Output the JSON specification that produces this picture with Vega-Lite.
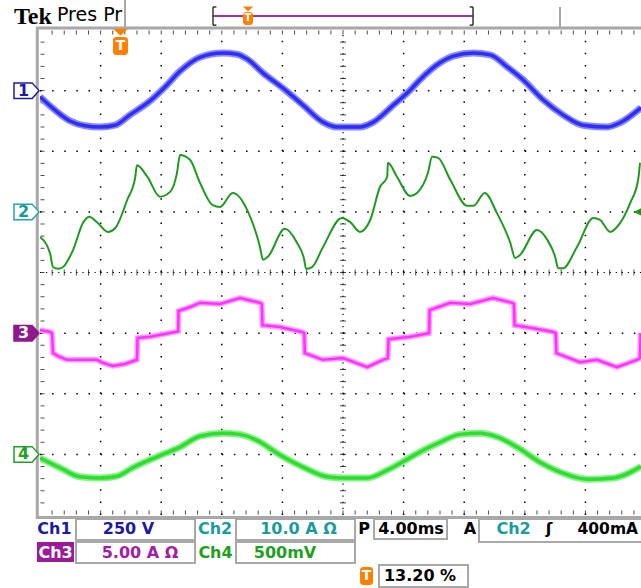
{
"$schema": "https://vega.github.io/schema/vega-lite/v6.json",
"width": 601, "height": 485,
"autosize": {"type": "none"},
"padding": {"left": 40, "top": 30, "right": 0, "bottom": 73},
"background": "white",
"config": {"view": {"stroke": null}, "axis": {"disable": true}, "font": "DejaVu Sans"},
"datasets": {
"vgrid": [{"t":1},{"t":2},{"t":3},{"t":4},{"t":6},{"t":7},{"t":8},{"t":9}],
"hgrid": [{"v":-3},{"v":-2},{"v":-1},{"v":1},{"v":2},{"v":3}],
"mx": [{"t":0.2},{"t":0.4},{"t":0.6},{"t":0.8},{"t":1},{"t":1.2},{"t":1.4},{"t":1.6},{"t":1.8},{"t":2},{"t":2.2},{"t":2.4},{"t":2.6},{"t":2.8},{"t":3},{"t":3.2},{"t":3.4},{"t":3.6},{"t":3.8},{"t":4},{"t":4.2},{"t":4.4},{"t":4.6},{"t":4.8},{"t":5},{"t":5.2},{"t":5.4},{"t":5.6},{"t":5.8},{"t":6},{"t":6.2},{"t":6.4},{"t":6.6},{"t":6.8},{"t":7},{"t":7.2},{"t":7.4},{"t":7.6},{"t":7.8},{"t":8},{"t":8.2},{"t":8.4},{"t":8.6},{"t":8.8},{"t":9},{"t":9.2},{"t":9.4},{"t":9.6},{"t":9.8}],
"my": [{"v":-3.8},{"v":-3.6},{"v":-3.4},{"v":-3.2},{"v":-3},{"v":-2.8},{"v":-2.6},{"v":-2.4},{"v":-2.2},{"v":-2},{"v":-1.8},{"v":-1.6},{"v":-1.4},{"v":-1.2},{"v":-1},{"v":-0.8},{"v":-0.6},{"v":-0.4},{"v":-0.2},{"v":0},{"v":0.2},{"v":0.4},{"v":0.6},{"v":0.8},{"v":1},{"v":1.2},{"v":1.4},{"v":1.6},{"v":1.8},{"v":2},{"v":2.2},{"v":2.4},{"v":2.6},{"v":2.8},{"v":3},{"v":3.2},{"v":3.4},{"v":3.6},{"v":3.8}],
"ch1": [{"t":0,"v":2.9},{"t":0.165,"v":2.75},{"t":0.495,"v":2.5},{"t":0.743,"v":2.42},{"t":0.99,"v":2.4},{"t":1.238,"v":2.43},{"t":1.485,"v":2.6},{"t":1.815,"v":2.83},{"t":2.063,"v":3.06},{"t":2.31,"v":3.32},{"t":2.64,"v":3.55},{"t":3.02,"v":3.62},{"t":3.25,"v":3.6},{"t":3.42,"v":3.52},{"t":3.68,"v":3.29},{"t":4.01,"v":3.04},{"t":4.34,"v":2.76},{"t":4.67,"v":2.48},{"t":4.9,"v":2.4},{"t":5.28,"v":2.4},{"t":5.5,"v":2.48},{"t":5.83,"v":2.76},{"t":6.11,"v":3.01},{"t":6.27,"v":3.18},{"t":6.6,"v":3.46},{"t":6.82,"v":3.57},{"t":7.15,"v":3.62},{"t":7.43,"v":3.59},{"t":7.71,"v":3.39},{"t":7.97,"v":3.18},{"t":8.3,"v":2.85},{"t":8.63,"v":2.6},{"t":8.96,"v":2.43},{"t":9.36,"v":2.4},{"t":9.57,"v":2.47},{"t":9.917,"v":2.72}],
"ch2": [{"t":0,"v":0.586},{"t":0.165,"v":0.32},{"t":0.215,"v":0.09},{"t":0.297,"v":0.06},{"t":0.38,"v":0.09},{"t":0.545,"v":0.37},{"t":0.71,"v":0.82},{"t":0.81,"v":0.92},{"t":0.94,"v":0.83},{"t":1.12,"v":0.67},{"t":1.24,"v":0.73},{"t":1.44,"v":1.2},{"t":1.57,"v":1.56},{"t":1.6,"v":1.77},{"t":1.77,"v":1.58},{"t":1.98,"v":1.25},{"t":2.145,"v":1.33},{"t":2.26,"v":1.64},{"t":2.31,"v":1.94},{"t":2.475,"v":1.86},{"t":2.64,"v":1.48},{"t":2.85,"v":1.11},{"t":2.97,"v":1.08},{"t":3.18,"v":1.31},{"t":3.42,"v":1.03},{"t":3.63,"v":0.42},{"t":3.68,"v":0.21},{"t":3.76,"v":0.26},{"t":4.04,"v":0.72},{"t":4.24,"v":0.49},{"t":4.36,"v":0.21},{"t":4.39,"v":0.06},{"t":4.49,"v":0.09},{"t":4.67,"v":0.42},{"t":4.98,"v":0.9},{"t":5.12,"v":0.83},{"t":5.28,"v":0.67},{"t":5.45,"v":0.87},{"t":5.61,"v":1.41},{"t":5.73,"v":1.58},{"t":5.74,"v":1.81},{"t":5.89,"v":1.58},{"t":6.11,"v":1.26},{"t":6.22,"v":1.31},{"t":6.4,"v":1.64},{"t":6.47,"v":1.91},{"t":6.57,"v":1.89},{"t":6.77,"v":1.53},{"t":7.05,"v":1.1},{"t":7.15,"v":1.1},{"t":7.34,"v":1.31},{"t":7.54,"v":0.98},{"t":7.76,"v":0.49},{"t":7.84,"v":0.24},{"t":7.92,"v":0.29},{"t":8.2,"v":0.7},{"t":8.37,"v":0.54},{"t":8.5,"v":0.26},{"t":8.55,"v":0.07},{"t":8.63,"v":0.07},{"t":8.86,"v":0.42},{"t":9.13,"v":0.9},{"t":9.24,"v":0.87},{"t":9.41,"v":0.67},{"t":9.52,"v":0.75},{"t":9.74,"v":1.15},{"t":9.87,"v":1.53},{"t":9.9,"v":1.81}],
"ch3": [{"t":0,"v":-0.95},{"t":0.165,"v":-0.98},{"t":0.198,"v":-1.0},{"t":0.215,"v":-1.33},{"t":0.297,"v":-1.38},{"t":0.445,"v":-1.44},{"t":0.776,"v":-1.44},{"t":0.94,"v":-1.44},{"t":1.04,"v":-1.49},{"t":1.2,"v":-1.54},{"t":1.4,"v":-1.51},{"t":1.6,"v":-1.44},{"t":1.61,"v":-1.08},{"t":1.815,"v":-1.06},{"t":2.23,"v":-0.98},{"t":2.28,"v":-0.97},{"t":2.285,"v":-0.635},{"t":2.475,"v":-0.57},{"t":2.64,"v":-0.5},{"t":2.97,"v":-0.52},{"t":3.3,"v":-0.42},{"t":3.63,"v":-0.5},{"t":3.66,"v":-0.52},{"t":3.67,"v":-0.87},{"t":3.96,"v":-0.9},{"t":4.32,"v":-0.98},{"t":4.36,"v":-1.0},{"t":4.37,"v":-1.33},{"t":4.67,"v":-1.44},{"t":5.0,"v":-1.41},{"t":5.4,"v":-1.56},{"t":5.66,"v":-1.44},{"t":5.74,"v":-1.41},{"t":5.75,"v":-1.1},{"t":6.11,"v":-1.06},{"t":6.42,"v":-1.0},{"t":6.43,"v":-0.62},{"t":6.77,"v":-0.5},{"t":7.1,"v":-0.52},{"t":7.475,"v":-0.42},{"t":7.79,"v":-0.5},{"t":7.82,"v":-0.52},{"t":7.83,"v":-0.87},{"t":8.14,"v":-0.92},{"t":8.47,"v":-0.98},{"t":8.51,"v":-1.0},{"t":8.52,"v":-1.33},{"t":8.91,"v":-1.48},{"t":9.19,"v":-1.44},{"t":9.52,"v":-1.56},{"t":9.85,"v":-1.44},{"t":9.9,"v":-1.41},{"t":9.91,"v":-1.0}],
"ch4": [{"t":0,"v":-3.06},{"t":0.33,"v":-3.22},{"t":0.66,"v":-3.37},{"t":0.99,"v":-3.39},{"t":1.27,"v":-3.36},{"t":1.53,"v":-3.22},{"t":1.93,"v":-3.04},{"t":2.31,"v":-2.88},{"t":2.64,"v":-2.7},{"t":3.02,"v":-2.65},{"t":3.3,"v":-2.67},{"t":3.58,"v":-2.77},{"t":3.96,"v":-3.01},{"t":4.34,"v":-3.21},{"t":4.74,"v":-3.37},{"t":5.0,"v":-3.39},{"t":5.4,"v":-3.39},{"t":5.73,"v":-3.26},{"t":6.11,"v":-3.05},{"t":6.27,"v":-2.96},{"t":6.6,"v":-2.8},{"t":6.93,"v":-2.67},{"t":7.26,"v":-2.65},{"t":7.54,"v":-2.71},{"t":7.87,"v":-2.88},{"t":8.25,"v":-3.13},{"t":8.63,"v":-3.31},{"t":9.03,"v":-3.41},{"t":9.46,"v":-3.39},{"t":9.917,"v":-3.2}],
"frame": [{"t":-0.045,"t2":10.3,"v":-4.04,"v2":4.035}],
"grayrules": [{"t":1.403,"t2":1.403,"v":4.04,"v2":4.5},{"t":8.58,"t2":8.58,"v":4.04,"v2":4.38}],
"bracket": [{"t":2.855,"t2":2.855,"v":4.08,"v2":4.38},{"t":2.855,"t2":2.91,"v":4.38,"v2":4.38},{"t":2.855,"t2":2.91,"v":4.08,"v2":4.08},{"t":7.145,"t2":7.145,"v":4.08,"v2":4.38},{"t":7.09,"t2":7.145,"v":4.38,"v2":4.38},{"t":7.09,"t2":7.145,"v":4.08,"v2":4.08}],
"recbar": [{"t":2.855,"t2":7.145,"v":4.231,"v2":4.231}],
"boxes": [{"t":0.594,"t2":2.558,"v":-4.066,"v2":-4.412},{"t":3.234,"t2":5.198,"v":-4.066,"v2":-4.412},{"t":5.512,"t2":6.716,"v":-4.066,"v2":-4.396},{"t":7.244,"t2":10.1,"v":-4.066,"v2":-4.445},{"t":0.594,"t2":2.558,"v":-4.445,"v2":-4.791},{"t":3.234,"t2":5.198,"v":-4.445,"v2":-4.791},{"t":5.594,"t2":7.063,"v":-4.824,"v2":-5.188}],
"purplebox": [{"t":-0.05,"t2":0.561,"v":-4.445,"v2":-4.775}],
"orect": [{"t":1.205,"t2":1.452,"v":3.885,"v2":3.588},{"t":3.35,"t2":3.515,"v":4.297,"v2":4.083},{"t":5.281,"t2":5.495,"v":-4.857,"v2":-5.155}],
"chmarks": [{"t":-0.223,"v":3,"ch":"1"},{"t":-0.223,"v":1,"ch":"2"},{"t":-0.223,"v":-1,"ch":"3"},{"t":-0.223,"v":-3,"ch":"4"}]
},
"layer": [
{"data": {"name": "frame"}, "mark": {"type": "rect", "fillOpacity": 0, "stroke": "#a8a8a8", "strokeWidth": 3},
 "encoding": {"x": {"field": "t", "type": "quantitative", "scale": {"domain": [0, 9.917], "nice": false, "zero": false}}, "x2": {"field": "t2"}, "y": {"field": "v", "type": "quantitative", "scale": {"domain": [-4, 4], "nice": false, "zero": false}}, "y2": {"field": "v2"}}},
{"data": {"name": "vgrid"}, "mark": {"type": "rule", "color": "#000000", "strokeWidth": 1.5, "strokeDash": [1.5, 10.625]},
 "encoding": {"x": {"field": "t", "type": "quantitative", "scale": {"domain": [0, 9.917], "nice": false, "zero": false}}, "y": {"datum": -4, "type": "quantitative", "scale": {"domain": [-4, 4], "nice": false, "zero": false}}, "y2": {"datum": 4}}},
{"data": {"name": "hgrid"}, "mark": {"type": "rule", "color": "#000000", "strokeWidth": 1.5, "strokeDash": [1.5, 10.62]},
 "encoding": {"y": {"field": "v", "type": "quantitative", "scale": {"domain": [-4, 4], "nice": false, "zero": false}}, "x": {"datum": 0, "type": "quantitative", "scale": {"domain": [0, 9.917], "nice": false, "zero": false}}, "x2": {"datum": 9.917}}},
{"data": {"values": [{"t": 5}]}, "mark": {"type": "rule", "color": "#000000", "strokeWidth": 1.2, "strokeDash": [1.2, 4.86]},
 "encoding": {"x": {"field": "t", "type": "quantitative", "scale": {"domain": [0, 9.917], "nice": false, "zero": false}}, "y": {"datum": -4, "type": "quantitative", "scale": {"domain": [-4, 4], "nice": false, "zero": false}}, "y2": {"datum": 4}}},
{"data": {"values": [{"v": 0}]}, "mark": {"type": "rule", "color": "#000000", "strokeWidth": 1.2, "strokeDash": [1.2, 4.86]},
 "encoding": {"y": {"field": "v", "type": "quantitative", "scale": {"domain": [-4, 4], "nice": false, "zero": false}}, "x": {"datum": 0, "type": "quantitative", "scale": {"domain": [0, 9.917], "nice": false, "zero": false}}, "x2": {"datum": 9.917}}},
{"data": {"name": "mx"}, "mark": {"type": "tick", "orient": "vertical", "color": "#000000", "size": 4, "thickness": 1, "yOffset": 2.5},
 "encoding": {"x": {"field": "t", "type": "quantitative", "scale": {"domain": [0, 9.917], "nice": false, "zero": false}}, "y": {"datum": 4, "type": "quantitative", "scale": {"domain": [-4, 4], "nice": false, "zero": false}}}},
{"data": {"name": "mx"}, "mark": {"type": "tick", "orient": "vertical", "color": "#000000", "size": 4, "thickness": 1, "yOffset": -2.5},
 "encoding": {"x": {"field": "t", "type": "quantitative", "scale": {"domain": [0, 9.917], "nice": false, "zero": false}}, "y": {"datum": -4, "type": "quantitative", "scale": {"domain": [-4, 4], "nice": false, "zero": false}}}},
{"data": {"name": "mx"}, "mark": {"type": "tick", "orient": "vertical", "color": "#000000", "size": 6, "thickness": 1},
 "encoding": {"x": {"field": "t", "type": "quantitative", "scale": {"domain": [0, 9.917], "nice": false, "zero": false}}, "y": {"datum": 0, "type": "quantitative", "scale": {"domain": [-4, 4], "nice": false, "zero": false}}}},
{"data": {"name": "my"}, "mark": {"type": "tick", "orient": "horizontal", "color": "#000000", "size": 4, "thickness": 1, "xOffset": 2.5},
 "encoding": {"y": {"field": "v", "type": "quantitative", "scale": {"domain": [-4, 4], "nice": false, "zero": false}}, "x": {"datum": 0, "type": "quantitative", "scale": {"domain": [0, 9.917], "nice": false, "zero": false}}}},
{"data": {"name": "my"}, "mark": {"type": "tick", "orient": "horizontal", "color": "#000000", "size": 6, "thickness": 1},
 "encoding": {"y": {"field": "v", "type": "quantitative", "scale": {"domain": [-4, 4], "nice": false, "zero": false}}, "x": {"datum": 5, "type": "quantitative", "scale": {"domain": [0, 9.917], "nice": false, "zero": false}}}},
{"data": {"name": "ch1"}, "mark": {"type": "line", "color": "#8a8aff", "strokeWidth": 7, "clip": true, "strokeJoin": "round", "interpolate": "monotone"},
 "encoding": {"x": {"field": "t", "type": "quantitative", "scale": {"domain": [0, 9.917], "nice": false, "zero": false}}, "y": {"field": "v", "type": "quantitative", "scale": {"domain": [-4, 4], "nice": false, "zero": false}}}},
{"data": {"name": "ch1"}, "mark": {"type": "line", "color": "#2f2ff2", "strokeWidth": 3.5, "clip": true, "strokeJoin": "round", "interpolate": "monotone"},
 "encoding": {"x": {"field": "t", "type": "quantitative", "scale": {"domain": [0, 9.917], "nice": false, "zero": false}}, "y": {"field": "v", "type": "quantitative", "scale": {"domain": [-4, 4], "nice": false, "zero": false}}}},
{"data": {"name": "ch2"}, "mark": {"type": "line", "color": "#1f9a1f", "strokeWidth": 2, "clip": true, "strokeJoin": "round", "interpolate": "monotone"},
 "encoding": {"x": {"field": "t", "type": "quantitative", "scale": {"domain": [0, 9.917], "nice": false, "zero": false}}, "y": {"field": "v", "type": "quantitative", "scale": {"domain": [-4, 4], "nice": false, "zero": false}}}},
{"data": {"name": "ch3"}, "mark": {"type": "line", "color": "#ff99ff", "strokeWidth": 5.5, "clip": true},
 "encoding": {"x": {"field": "t", "type": "quantitative", "scale": {"domain": [0, 9.917], "nice": false, "zero": false}}, "y": {"field": "v", "type": "quantitative", "scale": {"domain": [-4, 4], "nice": false, "zero": false}}}},
{"data": {"name": "ch3"}, "mark": {"type": "line", "color": "#ff33ff", "strokeWidth": 2.5, "clip": true},
 "encoding": {"x": {"field": "t", "type": "quantitative", "scale": {"domain": [0, 9.917], "nice": false, "zero": false}}, "y": {"field": "v", "type": "quantitative", "scale": {"domain": [-4, 4], "nice": false, "zero": false}}}},
{"data": {"name": "ch4"}, "mark": {"type": "line", "color": "#8cee8c", "strokeWidth": 7, "clip": true, "strokeJoin": "round", "interpolate": "monotone"},
 "encoding": {"x": {"field": "t", "type": "quantitative", "scale": {"domain": [0, 9.917], "nice": false, "zero": false}}, "y": {"field": "v", "type": "quantitative", "scale": {"domain": [-4, 4], "nice": false, "zero": false}}}},
{"data": {"name": "ch4"}, "mark": {"type": "line", "color": "#2ede2e", "strokeWidth": 3.5, "clip": true, "strokeJoin": "round", "interpolate": "monotone"},
 "encoding": {"x": {"field": "t", "type": "quantitative", "scale": {"domain": [0, 9.917], "nice": false, "zero": false}}, "y": {"field": "v", "type": "quantitative", "scale": {"domain": [-4, 4], "nice": false, "zero": false}}}},
{"data": {"name": "grayrules"}, "mark": {"type": "rule", "color": "#a8a8a8", "strokeWidth": 2},
 "encoding": {"x": {"field": "t", "type": "quantitative", "scale": {"domain": [0, 9.917], "nice": false, "zero": false}}, "x2": {"field": "t2"}, "y": {"field": "v", "type": "quantitative", "scale": {"domain": [-4, 4], "nice": false, "zero": false}}, "y2": {"field": "v2"}}},
{"data": {"name": "recbar"}, "mark": {"type": "rule", "color": "#a431a4", "strokeWidth": 2},
 "encoding": {"x": {"field": "t", "type": "quantitative", "scale": {"domain": [0, 9.917], "nice": false, "zero": false}}, "x2": {"field": "t2"}, "y": {"field": "v", "type": "quantitative", "scale": {"domain": [-4, 4], "nice": false, "zero": false}}, "y2": {"field": "v2"}}},
{"data": {"name": "bracket"}, "mark": {"type": "rule", "color": "#333333", "strokeWidth": 1.5},
 "encoding": {"x": {"field": "t", "type": "quantitative", "scale": {"domain": [0, 9.917], "nice": false, "zero": false}}, "x2": {"field": "t2"}, "y": {"field": "v", "type": "quantitative", "scale": {"domain": [-4, 4], "nice": false, "zero": false}}, "y2": {"field": "v2"}}},
{"data": {"name": "boxes"}, "mark": {"type": "rect", "fill": "#ffffff", "stroke": "#a8a8a8", "strokeWidth": 2},
 "encoding": {"x": {"field": "t", "type": "quantitative", "scale": {"domain": [0, 9.917], "nice": false, "zero": false}}, "x2": {"field": "t2"}, "y": {"field": "v", "type": "quantitative", "scale": {"domain": [-4, 4], "nice": false, "zero": false}}, "y2": {"field": "v2"}}},
{"data": {"name": "purplebox"}, "mark": {"type": "rect", "fill": "#9a1a9a"},
 "encoding": {"x": {"field": "t", "type": "quantitative", "scale": {"domain": [0, 9.917], "nice": false, "zero": false}}, "x2": {"field": "t2"}, "y": {"field": "v", "type": "quantitative", "scale": {"domain": [-4, 4], "nice": false, "zero": false}}, "y2": {"field": "v2"}}},
{"data": {"name": "orect"}, "mark": {"type": "rect", "fill": "#ff8000", "cornerRadius": 3},
 "encoding": {"x": {"field": "t", "type": "quantitative", "scale": {"domain": [0, 9.917], "nice": false, "zero": false}}, "x2": {"field": "t2"}, "y": {"field": "v", "type": "quantitative", "scale": {"domain": [-4, 4], "nice": false, "zero": false}}, "y2": {"field": "v2"}}},
{"data": {"values": [{"t": 1.3285, "v": 3.962}]}, "mark": {"type": "point", "shape": "M -1 -0.47 L 1 -0.47 L 0 0.47 Z", "size": 225, "filled": true, "fill": "#ff8000", "strokeWidth": 0, "opacity": 1},
 "encoding": {"x": {"field": "t", "type": "quantitative", "scale": {"domain": [0, 9.917], "nice": false, "zero": false}}, "y": {"field": "v", "type": "quantitative", "scale": {"domain": [-4, 4], "nice": false, "zero": false}}}},
{"data": {"values": [{"t": 3.4325, "v": 4.346}]}, "mark": {"type": "point", "shape": "M -1 -0.47 L 1 -0.47 L 0 0.47 Z", "size": 110, "filled": true, "fill": "#ff8000", "strokeWidth": 0, "opacity": 1},
 "encoding": {"x": {"field": "t", "type": "quantitative", "scale": {"domain": [0, 9.917], "nice": false, "zero": false}}, "y": {"field": "v", "type": "quantitative", "scale": {"domain": [-4, 4], "nice": false, "zero": false}}}},
{"data": {"values": [{"t": 9.865, "v": 1}]}, "mark": {"type": "point", "shape": "M 1 -1 L 1 1 L -1 0 Z", "size": 70, "filled": true, "fill": "#1a9a1a", "strokeWidth": 0, "opacity": 1},
 "encoding": {"x": {"field": "t", "type": "quantitative", "scale": {"domain": [0, 9.917], "nice": false, "zero": false}}, "y": {"field": "v", "type": "quantitative", "scale": {"domain": [-4, 4], "nice": false, "zero": false}}}},
{"data": {"values": [{"t": 1.3285, "v": 3.737, "s": "T"}, {"t": 5.388, "v": -5.006, "s": "T"}]}, "mark": {"type": "text", "color": "#ffffff", "fontSize": 14, "fontWeight": "bold", "align": "center", "baseline": "middle"},
 "encoding": {"x": {"field": "t", "type": "quantitative", "scale": {"domain": [0, 9.917], "nice": false, "zero": false}}, "y": {"field": "v", "type": "quantitative", "scale": {"domain": [-4, 4], "nice": false, "zero": false}}, "text": {"field": "s"}}},
{"data": {"values": [{"t": 3.4325, "v": 4.19, "s": "T"}]}, "mark": {"type": "text", "color": "#ffffff", "fontSize": 10, "fontWeight": "bold", "align": "center", "baseline": "middle"},
 "encoding": {"x": {"field": "t", "type": "quantitative", "scale": {"domain": [0, 9.917], "nice": false, "zero": false}}, "y": {"field": "v", "type": "quantitative", "scale": {"domain": [-4, 4], "nice": false, "zero": false}}, "text": {"field": "s"}}},
{"data": {"name": "chmarks"}, "mark": {"type": "point", "shape": "M -1 -0.62 L 0.45 -0.62 L 1 0 L 0.45 0.62 L -1 0.62 Z", "size": 625, "filled": true, "strokeWidth": 1.5, "opacity": 1},
 "encoding": {"x": {"field": "t", "type": "quantitative", "scale": {"domain": [0, 9.917], "nice": false, "zero": false}}, "y": {"field": "v", "type": "quantitative", "scale": {"domain": [-4, 4], "nice": false, "zero": false}},
  "fill": {"field": "ch", "type": "nominal", "scale": {"domain": ["1", "2", "3", "4"], "range": ["#ffffff", "#ffffff", "#8e1a8e", "#ffffff"]}, "legend": null},
  "stroke": {"field": "ch", "type": "nominal", "scale": {"domain": ["1", "2", "3", "4"], "range": ["#1c1c9c", "#22a6a6", "#8e1a8e", "#22a022"]}, "legend": null}}},
{"data": {"name": "chmarks"}, "mark": {"type": "text", "fontSize": 16, "fontWeight": "bold", "align": "center", "baseline": "middle", "xOffset": -3},
 "encoding": {"x": {"field": "t", "type": "quantitative", "scale": {"domain": [0, 9.917], "nice": false, "zero": false}}, "y": {"field": "v", "type": "quantitative", "scale": {"domain": [-4, 4], "nice": false, "zero": false}}, "text": {"field": "ch"},
  "color": {"field": "ch", "type": "nominal", "scale": {"domain": ["1", "2", "3", "4"], "range": ["#1c1c9c", "#1a9898", "#ffffff", "#22a022"]}, "legend": null}}},
{"data": {"values": [{"t": -0.43, "v": 4.22, "s": "Tek"}]}, "mark": {"type": "text", "font": "Liberation Serif", "fontSize": 24, "fontWeight": "bold", "align": "left", "baseline": "middle", "color": "#000000"},
 "encoding": {"x": {"field": "t", "type": "quantitative", "scale": {"domain": [0, 9.917], "nice": false, "zero": false}}, "y": {"field": "v", "type": "quantitative", "scale": {"domain": [-4, 4], "nice": false, "zero": false}}, "text": {"field": "s"}}},
{"data": {"values": [{"t": 0.2805, "v": 4.25, "s": "Pres Pr"}]}, "mark": {"type": "text", "fontSize": 19, "align": "left", "baseline": "middle", "color": "#000000"},
 "encoding": {"x": {"field": "t", "type": "quantitative", "scale": {"domain": [0, 9.917], "nice": false, "zero": false}}, "y": {"field": "v", "type": "quantitative", "scale": {"domain": [-4, 4], "nice": false, "zero": false}}, "text": {"field": "s"}}},
{"data": {"values": [{"t": 0.239, "v": -4.239, "s": "Ch1"}, {"t": 1.46, "v": -4.239, "s": "250 V"}]}, "mark": {"type": "text", "fontSize": 16, "fontWeight": "bold", "align": "center", "baseline": "middle", "color": "#1c1c9c"},
 "encoding": {"x": {"field": "t", "type": "quantitative", "scale": {"domain": [0, 9.917], "nice": false, "zero": false}}, "y": {"field": "v", "type": "quantitative", "scale": {"domain": [-4, 4], "nice": false, "zero": false}}, "text": {"field": "s"}}},
{"data": {"values": [{"t": 2.888, "v": -4.239, "s": "Ch2"}, {"t": 4.266, "v": -4.239, "s": "10.0 A Ω"}, {"t": 7.814, "v": -4.239, "s": "Ch2"}]}, "mark": {"type": "text", "fontSize": 16, "fontWeight": "bold", "align": "center", "baseline": "middle", "color": "#1a9c9c"},
 "encoding": {"x": {"field": "t", "type": "quantitative", "scale": {"domain": [0, 9.917], "nice": false, "zero": false}}, "y": {"field": "v", "type": "quantitative", "scale": {"domain": [-4, 4], "nice": false, "zero": false}}, "text": {"field": "s"}}},
{"data": {"values": [{"t": 5.347, "v": -4.239, "s": "P"}, {"t": 6.122, "v": -4.239, "s": "4.00ms"}, {"t": 7.096, "v": -4.239, "s": "A"}, {"t": 8.399, "v": -4.239, "s": "ʃ"}, {"t": 6.271, "v": -5.006, "s": "13.20 %"}]}, "mark": {"type": "text", "fontSize": 16, "fontWeight": "bold", "align": "center", "baseline": "middle", "color": "#000000"},
 "encoding": {"x": {"field": "t", "type": "quantitative", "scale": {"domain": [0, 9.917], "nice": false, "zero": false}}, "y": {"field": "v", "type": "quantitative", "scale": {"domain": [-4, 4], "nice": false, "zero": false}}, "text": {"field": "s"}}},
{"data": {"values": [{"t": 8.87, "v": -4.239, "s": "400mA"}]}, "mark": {"type": "text", "fontSize": 15.5, "fontWeight": "bold", "align": "left", "baseline": "middle", "color": "#000000"},
 "encoding": {"x": {"field": "t", "type": "quantitative", "scale": {"domain": [0, 9.917], "nice": false, "zero": false}}, "y": {"field": "v", "type": "quantitative", "scale": {"domain": [-4, 4], "nice": false, "zero": false}}, "text": {"field": "s"}}},
{"data": {"values": [{"t": 0.256, "v": -4.619, "s": "Ch3"}]}, "mark": {"type": "text", "fontSize": 16, "fontWeight": "bold", "align": "center", "baseline": "middle", "color": "#ffffff"},
 "encoding": {"x": {"field": "t", "type": "quantitative", "scale": {"domain": [0, 9.917], "nice": false, "zero": false}}, "y": {"field": "v", "type": "quantitative", "scale": {"domain": [-4, 4], "nice": false, "zero": false}}, "text": {"field": "s"}}},
{"data": {"values": [{"t": 1.65, "v": -4.619, "s": "5.00 A Ω"}]}, "mark": {"type": "text", "fontSize": 16, "fontWeight": "bold", "align": "center", "baseline": "middle", "color": "#a21ea2"},
 "encoding": {"x": {"field": "t", "type": "quantitative", "scale": {"domain": [0, 9.917], "nice": false, "zero": false}}, "y": {"field": "v", "type": "quantitative", "scale": {"domain": [-4, 4], "nice": false, "zero": false}}, "text": {"field": "s"}}},
{"data": {"values": [{"t": 2.896, "v": -4.619, "s": "Ch4"}, {"t": 4.043, "v": -4.619, "s": "500mV"}]}, "mark": {"type": "text", "fontSize": 16, "fontWeight": "bold", "align": "center", "baseline": "middle", "color": "#1ea01e"},
 "encoding": {"x": {"field": "t", "type": "quantitative", "scale": {"domain": [0, 9.917], "nice": false, "zero": false}}, "y": {"field": "v", "type": "quantitative", "scale": {"domain": [-4, 4], "nice": false, "zero": false}}, "text": {"field": "s"}}}
]
}
